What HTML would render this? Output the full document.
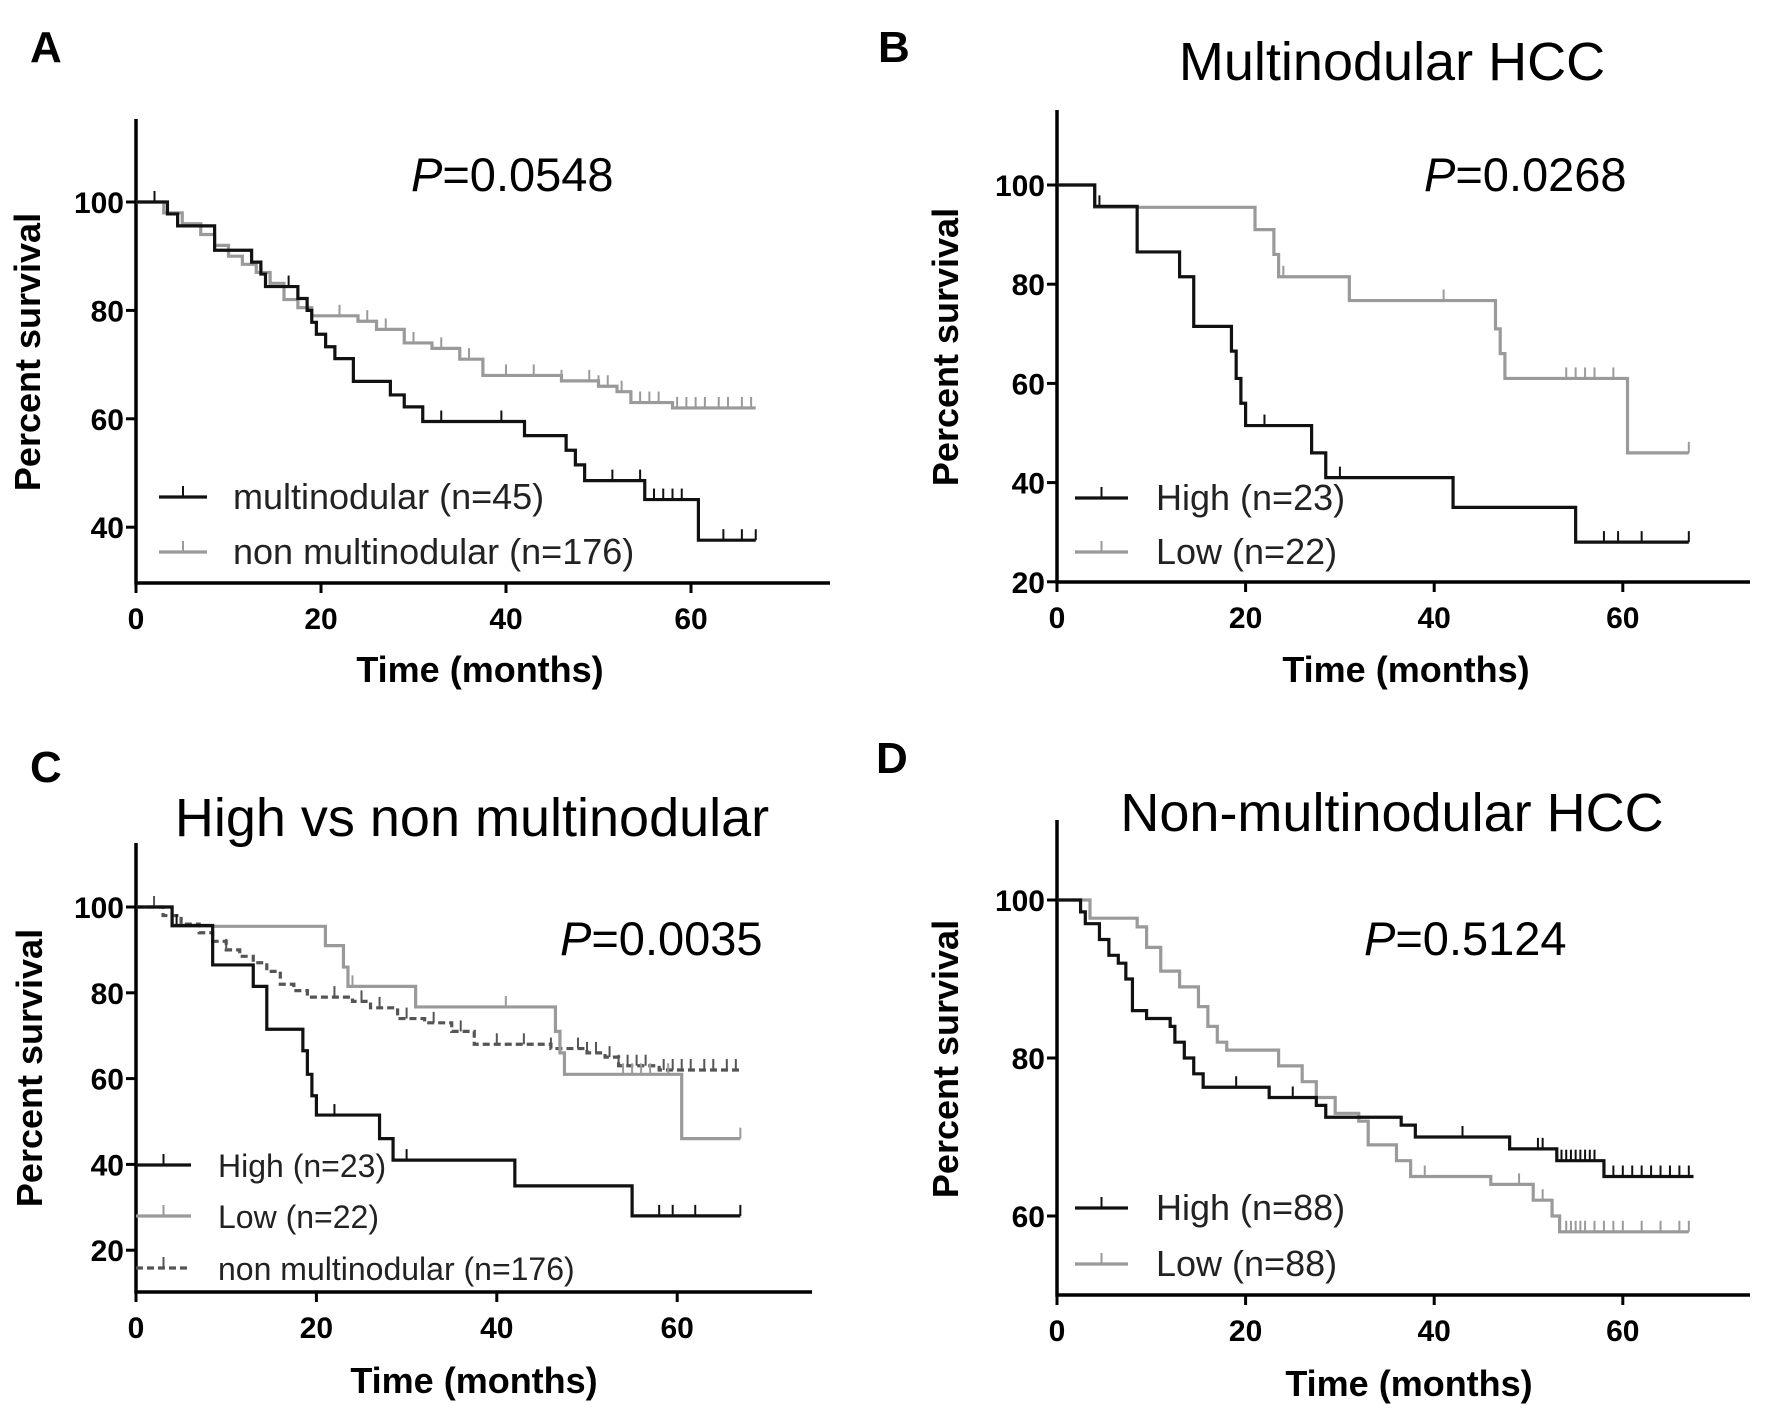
<!DOCTYPE html>
<html><head><meta charset="utf-8"><style>
html,body{margin:0;padding:0;background:#fff;}
svg{display:block;font-family:"Liberation Sans",Arial,sans-serif;}
</style></head><body>
<svg id="fig" width="1772" height="1412" viewBox="0 0 1772 1412" xmlns="http://www.w3.org/2000/svg">
<rect width="1772" height="1412" fill="#fff"/>
</svg>
<script>
// ---------- Data ----------
const xTicks = [0, 20, 40, 60];
const yTicksA = [40, 60, 80, 100];
const yTicksB = [20, 40, 60, 80, 100];
const yTicksD = [60, 80, 100];

const multiTimes = [0, 3.4, 4.5, 8.5, 12.5, 13.5, 14, 17.5, 18.5, 19, 19.5, 20.5, 21.5, 23.5, 27.5, 29, 31, 42, 46.5, 47.5, 48.5, 55, 60.8];
const multiSurv  = [100, 97.8, 95.6, 91.1, 88.9, 86.7, 84.4, 82.2, 80, 77.8, 75.6, 73.3, 71.1, 66.9, 64.4, 62.2, 59.5, 56.9, 54.2, 51.5, 48.6, 45.1, 37.6];
const multiCens  = [2, 16.5, 33, 39.5, 51.5, 54.5, 56, 57, 58, 59, 63.5, 65.5, 67];
const multiEnd = 67;

const nonTimes = [0, 3, 5, 7, 8.5, 10, 11.5, 13, 14.5, 16, 17.5, 19, 24, 26, 29, 32, 35, 37.5, 46, 50, 52, 53.5, 58];
const nonSurv  = [100, 98, 96, 94, 92, 90, 88.5, 87, 85, 82, 80.5, 79, 78, 76.5, 74, 73, 71, 68, 67, 66, 65, 63, 62];
const nonCens  = [2, 10, 22, 25, 27, 30, 33, 36, 40, 43, 46, 49, 50, 51, 52.5, 53.5, 54.5, 55.5, 56.5, 58.5, 59.5, 60.5, 61.5, 63, 64, 65.5, 66.5];
const nonEnd = 67;

const highBTimes = [0, 4, 8.5, 13, 14.5, 18.5, 19, 19.5, 20, 27, 28.5, 42, 55];
const highBSurv  = [100, 95.7, 86.5, 81.5, 71.5, 66.5, 61, 56, 51.5, 46, 41, 35, 28];
const highBCens  = [4.5, 22, 30, 58, 59.5, 62, 67];
const highBEnd = 67;

const lowBTimes = [0, 4, 21, 23, 23.5, 31, 46.5, 47, 47.5, 60.5];
const lowBSurv  = [100, 95.5, 91, 86, 81.5, 76.7, 71, 66, 61, 46];
const lowBCens  = [24, 41, 54, 55, 56, 57, 59, 67];
const lowBEnd = 67;

const highDTimes = [0, 2.5, 3, 4.5, 5.5, 6.5, 7.3, 8, 9.5, 12, 12.5, 13.5, 14.5, 15.5, 22.5, 27.5, 28.5, 36.5, 38, 48, 53, 58];
const highDSurv  = [100, 98.5, 97, 95, 93, 92, 90, 86, 85, 84, 82, 80, 78, 76.3, 75, 74, 72.5, 71.5, 70, 68.5, 67, 65];
const highDCens  = [19, 25, 43, 51, 51.5, 53.5, 54, 54.5, 55, 55.5, 56, 56.5, 57, 59, 60, 61, 62, 63, 64, 65, 66, 67];
const highDEnd = 67.5;

const lowDTimes = [0, 3.5, 8.5, 9.5, 11, 13, 15, 16, 17, 18, 23.5, 26, 27.5, 29.5, 32, 33, 36, 37.5, 46, 50.5, 52.5, 53.3];
const lowDSurv  = [100, 97.7, 96.6, 94, 91, 89, 86.5, 84, 82, 81, 79, 77, 75, 73, 72, 69, 67, 65, 64, 62, 60, 58];
const lowDCens  = [39, 49, 51.5, 54, 54.5, 55, 55.5, 56, 57, 58, 59, 60, 62, 64, 66, 67];
const lowDEnd = 67;

// ---------- Drawing ----------
const NS = "http://www.w3.org/2000/svg";
const svg = document.getElementById("fig");
function mk(tag, attrs, parent, text) {
  const e = document.createElementNS(NS, tag);
  for (const k in attrs) e.setAttribute(k, attrs[k]);
  if (text !== undefined) e.textContent = text;
  (parent || svg).appendChild(e);
  return e;
}

function panel(cfg) {
  const g = mk("g", {});
  
  
  const X = v => cfg.x0 + v * cfg.xs;
  const Y = v => cfg.y100 + (100 - v) * cfg.ys;
  cfg.X = X; cfg.Y = Y;
  const ax = mk("path", {d: `M${cfg.x0} ${cfg.top} V${cfg.bottom} H${cfg.right}`, stroke: "#000", "stroke-width": 3.5, fill: "none"}, g);
  
  
  xTicks.forEach(t => {
    const tk = mk("line", {x1: X(t), x2: X(t), y1: cfg.bottom, y2: cfg.bottom + 10, stroke: "#000", "stroke-width": 3}, g);
    
    
    const lb = mk("text", {x: X(t), y: cfg.bottom + 46, "text-anchor": "middle", "font-size": 30, "font-weight": "bold"}, g, String(t));
    
    
  });
  cfg.yTicks.forEach(t => {
    const tk = mk("line", {x1: cfg.x0 - 10, x2: cfg.x0, y1: Y(t), y2: Y(t), stroke: "#000", "stroke-width": 3}, g);
    
    
    const lb = mk("text", {x: cfg.x0 - 12, y: Y(t) + 11, "text-anchor": "end", "font-size": 30, "font-weight": "bold"}, g, String(t));
    
    
  });
  const xt = mk("text", {x: cfg.xtX, y: cfg.xtY, "text-anchor": "middle", "font-size": 36, "font-weight": "bold"}, g, "Time (months)");
  
  
  const yt = mk("text", {x: 0, y: 0, transform: `translate(${cfg.ytX},${cfg.ytY}) rotate(-90)`, "text-anchor": "middle", "font-size": 36, "font-weight": "bold"}, g, "Percent survival");
  
  
  const pl = mk("text", {x: cfg.letterX, y: cfg.letterY, "font-size": 44, "font-weight": "bold"}, g, cfg.letter);
  
  
  if (cfg.title) {
    const tt = mk("text", {x: cfg.titleX, y: cfg.titleY, "text-anchor": "middle", "font-size": 54}, g, cfg.title);
    
    
  }
  const pv = mk("text", {x: cfg.pX, y: cfg.pY, "font-size": 47}, g);
  
  
  mk("tspan", {"font-style": "italic"}, pv, "P");
  mk("tspan", {}, pv, cfg.p);
  return g;
}

function survAt(times, surv, t) {
  let s = surv[0];
  for (let i = 0; i < times.length; i++) if (times[i] <= t) s = surv[i];
  return s;
}

function curve(cfg, g, times, surv, cens, end, color, dash, name) {
  const X = cfg.X, Y = cfg.Y;
  let d = `M${X(times[0])} ${Y(surv[0])}`;
  for (let i = 1; i < times.length; i++) {
    d += ` H${X(times[i])} V${Y(surv[i])}`;
  }
  d += ` H${X(end)}`;
  const p = mk("path", {d: d, stroke: color, "stroke-width": 3.2, fill: "none", "stroke-dasharray": dash || "none"}, g);
  
  
  cens.forEach(t => {
    const s = survAt(times, surv, t);
    const c = mk("line", {x1: X(t), x2: X(t), y1: Y(s), y2: Y(s) - 11, stroke: color, "stroke-width": 2}, g);
    
    
  });
}

function legend(g, x1, x2, y, tx, color, dash, label, fs) {
  const l = mk("line", {x1: x1, x2: x2, y1: y, y2: y, stroke: color, "stroke-width": 3.2, "stroke-dasharray": dash || "none"}, g);
  
  
  const m = mk("line", {x1: (x1 + x2) / 2, x2: (x1 + x2) / 2, y1: y, y2: y - 11, stroke: color, "stroke-width": 2}, g);
  
  
  const t = mk("text", {x: tx, y: y + 12, "font-size": fs || 36, fill: "#222"}, g, label);
  
  
}

const cA = {name: "panel-a", letter: "A", letterX: 30, letterY: 62, x0: 136, xs: 9.25, y100: 202, ys: 5.42, top: 119, bottom: 583, right: 830,
  yTicks: yTicksA, xtX: 480, xtY: 682, ytX: 40, ytY: 352, pX: 411, pY: 191, p: "=0.0548"};
const gA = panel(cA);
curve(cA, gA, nonTimes, nonSurv, nonCens, nonEnd, "#9a9a9a", null, "non-multinodular");
curve(cA, gA, multiTimes, multiSurv, multiCens, multiEnd, "#111", null, "multinodular");
legend(gA, 159, 207, 497, 233, "#111", null, "multinodular  (n=45)");
legend(gA, 159, 207, 552, 233, "#9a9a9a", null, "non multinodular (n=176)");

const cB = {name: "panel-b", letter: "B", letterX: 878, letterY: 62, x0: 1057, xs: 9.43, y100: 185, ys: 4.96, top: 110, bottom: 582, right: 1750,
  yTicks: yTicksB, xtX: 1406, xtY: 682, ytX: 958, ytY: 347, pX: 1424, pY: 191, p: "=0.0268", title: "Multinodular HCC", titleX: 1392, titleY: 80};
const gB = panel(cB);
curve(cB, gB, lowBTimes, lowBSurv, lowBCens, lowBEnd, "#9a9a9a", null, "low");
curve(cB, gB, highBTimes, highBSurv, highBCens, highBEnd, "#111", null, "high");
legend(gB, 1075, 1128, 498, 1156, "#111", null, "High (n=23)");
legend(gB, 1075, 1128, 552, 1156, "#9a9a9a", null, "Low (n=22)");

const cC = {name: "panel-c", letter: "C", letterX: 30, letterY: 782, x0: 136, xs: 9.02, y100: 907, ys: 4.29, top: 843, bottom: 1292, right: 812,
  yTicks: yTicksB, xtX: 474, xtY: 1393, ytX: 42, ytY: 1068, pX: 560, pY: 955, p: "=0.0035", title: "High vs non multinodular", titleX: 472, titleY: 836};
const gC = panel(cC);
curve(cC, gC, nonTimes, nonSurv, nonCens, nonEnd, "#555", "7,4", "non-multinodular");
curve(cC, gC, lowBTimes, lowBSurv, lowBCens, lowBEnd, "#9a9a9a", null, "low");
curve(cC, gC, highBTimes, highBSurv, highBCens, highBEnd, "#111", null, "high");
legend(gC, 136, 191, 1165, 218, "#111", null, "High (n=23)", 32);
legend(gC, 136, 191, 1216, 218, "#9a9a9a", null, "Low (n=22)", 32);
legend(gC, 136, 191, 1268, 218, "#555", "7,4", "non multinodular (n=176)", 32);

const cD = {name: "panel-d", letter: "D", letterX: 876, letterY: 773, x0: 1057, xs: 9.43, y100: 900, ys: 7.9, top: 820, bottom: 1295, right: 1750,
  yTicks: yTicksD, xtX: 1409, xtY: 1396, ytX: 958, ytY: 1059, pX: 1364, pY: 955, p: "=0.5124", title: "Non-multinodular HCC", titleX: 1392, titleY: 831};
const gD = panel(cD);
curve(cD, gD, lowDTimes, lowDSurv, lowDCens, lowDEnd, "#9a9a9a", null, "low");
curve(cD, gD, highDTimes, highDSurv, highDCens, highDEnd, "#111", null, "high");
legend(gD, 1075, 1128, 1208, 1156, "#111", null, "High (n=88)");
legend(gD, 1075, 1128, 1264, 1156, "#9a9a9a", null, "Low (n=88)");
</script>
</body></html>
